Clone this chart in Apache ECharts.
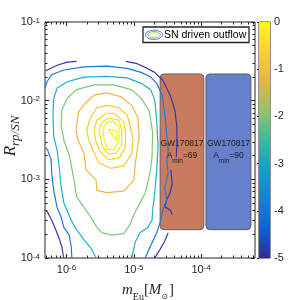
<!DOCTYPE html>
<html><head><meta charset="utf-8">
<script src="https://cdn.jsdelivr.net/npm/echarts@6/dist/echarts.min.js"></script>
<style>html,body{margin:0;padding:0;background:#fff}#c{width:308px;height:300px}</style>
</head><body><div id="c"></div><script>
// axis ranges in log10 units
const xMin = -6.32, xMax = -3.2, yMin = -4, yMax = -1;
const xTicks = [-6, -5, -4];
const yTicks = [-4, -3, -2, -1];
const cbTicks = [0, -1, -2, -3, -4, -5];

// contour lines: [log10 m_Eu, log10 R]
const navyTopLeft = [[-6.31,-1.62],[-6.14,-1.55],[-5.99,-1.51],[-5.85,-1.50]];
const navyRight = [[-5.12,-1.50],[-4.95,-1.53],[-4.80,-1.59],[-4.69,-1.64],[-4.57,-1.74],[-4.46,-1.93],[-4.39,-2.12],[-4.36,-2.34],[-4.36,-2.54],[-4.37,-2.72]];
const navyRightMid = [[-4.45,-2.88],[-4.43,-3.05],[-4.46,-3.17],[-4.51,-3.26],[-4.54,-3.35],[-4.46,-3.39],[-4.43,-3.45]];
const navyBottomRight = [[-4.49,-3.68],[-4.55,-3.80],[-4.61,-3.89],[-4.69,-4.0]];
const navyBottomLeft = [[-6.32,-3.39],[-6.28,-3.42],[-6.22,-3.52],[-6.16,-3.64],[-6.11,-3.75],[-6.07,-3.86],[-6.04,-4.0]];
const blueOuter = [[-6.32,-1.84],[-6.29,-1.76],[-6.22,-1.67],[-6.04,-1.61],[-5.74,-1.57],[-5.40,-1.56],[-5.10,-1.59],[-4.89,-1.64],[-4.75,-1.70],[-4.66,-1.78],[-4.58,-1.93],[-4.54,-2.18],[-4.51,-2.44],[-4.49,-2.63],[-4.51,-2.75],[-4.49,-2.92],[-4.54,-3.10],[-4.51,-3.26],[-4.57,-3.39],[-4.61,-3.55],[-4.66,-3.68],[-4.76,-3.86],[-4.83,-4.0]];
const blueLeft = [[-6.31,-2.60],[-6.28,-2.63],[-6.23,-2.75],[-6.22,-2.92],[-6.19,-3.14],[-6.14,-3.36],[-6.08,-3.48],[-6.04,-3.61],[-5.96,-3.71],[-5.93,-3.86],[-5.92,-4.0]];
const cyanLine = [[-5.56,-4.0],[-5.64,-3.87],[-5.74,-3.77],[-5.85,-3.64],[-5.93,-3.52],[-6.04,-3.30],[-6.08,-3.10],[-6.11,-2.84],[-6.14,-2.63],[-6.19,-2.46],[-6.20,-2.25],[-6.20,-2.12],[-6.19,-1.97],[-6.14,-1.84],[-5.99,-1.76],[-5.74,-1.70],[-5.40,-1.69],[-5.10,-1.71],[-4.89,-1.78],[-4.75,-1.86],[-4.69,-1.99],[-4.66,-2.25],[-4.64,-2.59],[-4.66,-2.88],[-4.69,-3.17],[-4.72,-3.39],[-4.73,-3.52],[-4.80,-3.62],[-4.91,-3.68],[-4.98,-3.80],[-5.03,-4.0]];
const greenLine = [[-5.99,-1.97],[-6.07,-2.12],[-6.08,-2.31],[-6.04,-2.50],[-5.96,-2.69],[-5.93,-2.82],[-5.89,-3.01],[-5.85,-3.22],[-5.74,-3.36],[-5.64,-3.48],[-5.55,-3.61],[-5.47,-3.68],[-5.32,-3.71],[-5.15,-3.69],[-5.06,-3.58],[-5.00,-3.45],[-4.91,-3.30],[-4.83,-3.17],[-4.76,-2.92],[-4.73,-2.72],[-4.72,-2.41],[-4.77,-2.14],[-4.89,-1.97],[-5.04,-1.86],[-5.30,-1.80],[-5.59,-1.80],[-5.85,-1.86],[-5.99,-1.97]];
const orangeLine = [[-5.86,-2.37],[-5.82,-2.14],[-5.71,-2.02],[-5.59,-1.93],[-5.40,-1.90],[-5.19,-1.95],[-5.03,-2.06],[-4.94,-2.22],[-4.92,-2.46],[-4.95,-2.63],[-4.98,-2.82],[-5.00,-3.01],[-5.15,-3.15],[-5.40,-3.17],[-5.55,-3.14],[-5.56,-3.01],[-5.71,-2.88],[-5.74,-2.67],[-5.83,-2.50],[-5.86,-2.37]];
const goldLine = [[-5.70,-2.37],[-5.64,-2.21],[-5.55,-2.09],[-5.40,-2.06],[-5.22,-2.09],[-5.10,-2.18],[-5.04,-2.37],[-5.01,-2.50],[-5.03,-2.67],[-5.15,-2.83],[-5.34,-2.86],[-5.52,-2.79],[-5.61,-2.63],[-5.67,-2.50],[-5.70,-2.37]];
const yellow1 = [[-5.59,-2.37],[-5.55,-2.25],[-5.41,-2.16],[-5.30,-2.16],[-5.15,-2.27],[-5.12,-2.44],[-5.13,-2.60],[-5.22,-2.73],[-5.38,-2.75],[-5.50,-2.65],[-5.56,-2.53],[-5.59,-2.37]];
const yellow2 = [[-5.52,-2.37],[-5.47,-2.27],[-5.37,-2.22],[-5.22,-2.25],[-5.18,-2.37],[-5.18,-2.56],[-5.27,-2.67],[-5.38,-2.68],[-5.47,-2.58],[-5.52,-2.37]];
const yellow3 = [[-5.46,-2.37],[-5.41,-2.28],[-5.31,-2.26],[-5.22,-2.33],[-5.22,-2.50],[-5.30,-2.63],[-5.40,-2.61],[-5.44,-2.50],[-5.46,-2.37]];
const peak = [[-5.38,-2.36],[-5.25,-2.39],[-5.26,-2.51],[-5.38,-2.36]];

const cNavy='#3b37a6', cBlue='#1f76dc', cCyan='#1cb0cf', cGreen='#7fc877', cOrange='#f1b445', cGold='#f9c733', cY1='#f7d626', cY2='#f6e11d', cY3='#f7ec16', cPeak='#f8f60e';
const contours = [
  [navyTopLeft,cNavy],[navyRight,cNavy],[navyRightMid,cNavy],[navyBottomRight,cNavy],[navyBottomLeft,cNavy],
  [blueOuter,cBlue],[blueLeft,cBlue],[cyanLine,cCyan],[greenLine,cGreen],[orangeLine,cOrange],
  [goldLine,cGold],[yellow1,cY1],[yellow2,cY2],[yellow3,cY3],[peak,cPeak]
];

// GW170817 boxes
const boxX = [[-4.61,-3.96],[-3.93,-3.26]];
const boxY = [-1.66,-3.64];
const boxNames = ['GW170817','GW170817'];
const boxAmin = [69, 90];
const boxColors = ['#c87b5e','#6780cc'];

const parula = ['#f9fb0e','#fccf30','#e2b83e','#98c06c','#3cb99c','#0aa4c6','#1482d6','#0a62df','#352a87'];

const xMinor = [], yMinor = [];
for (let n=-7;n<=-4;n++) for (let k=2;k<=9;k++){const v=n+Math.log10(k); if(v>xMin&&v<xMax) xMinor.push(v);}
for (let n=-4;n<=-2;n++) for (let k=2;k<=9;k++){yMinor.push(n+Math.log10(k));}

const AX = '#262626';
const FONT = '"Liberation Sans", Arial, sans-serif';
const labelRich = {
  b:{fontSize:11, lineHeight:11, padding:[5,0,0,0], verticalAlign:'bottom', color:AX, fontFamily:FONT},
  s:{fontSize:8, lineHeight:8, verticalAlign:'top', color:AX, fontFamily:FONT}
};
const fmt = v => '{b|10}{s|' + Math.round(v) + '}';
function ax(extra){
  return Object.assign({type:'value', gridIndex:0, axisLine:{show:false}, splitLine:{show:false}, axisLabel:{show:false}}, extra);
}
const tickStyle = {color:AX, width:1};

const chart = echarts.init(document.getElementById('c'), null, {renderer:'canvas'});
chart.setOption({
  animation:false,
  grid:[
    {left:45, top:22, width:210, height:236, show:true, borderColor:AX, borderWidth:1, backgroundColor:'#fff'},
    {left:259, top:22, width:11, height:236, show:true, borderColor:AX, borderWidth:1}
  ],
  xAxis:[
    ax({min:xMin,max:xMax,position:'bottom',axisTick:{show:true,inside:true,length:4,customValues:xTicks,lineStyle:tickStyle},
        axisLabel:{show:true,customValues:xTicks,formatter:fmt,margin:6,rich:labelRich}}),
    ax({min:xMin,max:xMax,position:'bottom',axisTick:{show:true,inside:true,length:2.5,customValues:xMinor,lineStyle:tickStyle}}),
    ax({min:xMin,max:xMax,position:'top',axisTick:{show:true,inside:true,length:4,customValues:xTicks,lineStyle:tickStyle}}),
    ax({min:xMin,max:xMax,position:'top',axisTick:{show:true,inside:true,length:2.5,customValues:xMinor,lineStyle:tickStyle}}),
    {type:'value', gridIndex:1, min:0, max:1, show:false}
  ],
  yAxis:[
    ax({min:yMin,max:yMax,interval:1,position:'left',axisTick:{show:true,inside:true,length:4,customValues:yTicks,lineStyle:tickStyle},
        axisLabel:{show:true,customValues:yTicks,formatter:fmt,margin:5,rich:labelRich}}),
    ax({min:yMin,max:yMax,position:'left',axisTick:{show:true,inside:true,length:2.5,customValues:yMinor,lineStyle:tickStyle}}),
    ax({min:yMin,max:yMax,position:'right',axisTick:{show:true,inside:true,length:4,customValues:yTicks,lineStyle:tickStyle}}),
    ax({min:yMin,max:yMax,position:'right',axisTick:{show:true,inside:true,length:2.5,customValues:yMinor,lineStyle:tickStyle}}),
    {type:'value', gridIndex:1, min:-5, max:0, interval:1, position:'right', axisLine:{show:false}, splitLine:{show:false},
     axisTick:{show:true, inside:true, length:2, lineStyle:tickStyle},
     axisLabel:{show:true, margin:4, color:AX, fontSize:11, fontFamily:FONT, padding:[4,0,0,0], formatter:v=>String(v)}}
  ],
  series:[
    {type:'custom', xAxisIndex:4, yAxisIndex:4, silent:true, z:1, data:[[0,0,1,-5]],
     renderItem:(params, api)=>{
       const cs = params.coordSys;
       const p0 = api.coord([api.value(0), api.value(1)]);
       const p1 = api.coord([api.value(2), api.value(3)]);
       return {type:'rect', shape:{x:cs.x, y:p0[1], width:cs.width, height:p1[1]-p0[1]},
         style:{fill:new echarts.graphic.LinearGradient(0,p0[1],0,p1[1], parula.map((c,i)=>({offset:i/(parula.length-1), color:c})), true)}};
     }},
    {type:'custom', xAxisIndex:0, yAxisIndex:0, silent:true, z:2,
     data: boxX.map(r=>[r[0], r[1], boxY[0], boxY[1]]),
     renderItem:(params, api)=>{
       const i = params.dataIndex;
       const p0 = api.coord([api.value(0), api.value(2)]);
       const p1 = api.coord([api.value(1), api.value(3)]);
       const x = p0[0], y = p0[1], w = p1[0]-p0[0], h = p1[1]-p0[1];
       const cx = x + w/2;
       return {type:'group', children:[
         {type:'rect', shape:{x, y, width:w, height:h, r:4}, style:{fill:boxColors[i], stroke:'#4d4d4d', lineWidth:0.8}},
         {type:'text', style:{text:boxNames[i], x:cx, y:y+h*0.445, align:'center', verticalAlign:'middle', fill:'#1a1a1a', font:'8.5px "Liberation Sans", Arial, sans-serif'}},
         {type:'text', style:{text:'{a|A}{s|min}{a|=' + boxAmin[i] + '}', x:cx, y:y+h*0.53, align:'center', verticalAlign:'middle',
           rich:{a:{fontSize:8.5, lineHeight:10, verticalAlign:'top', fill:'#1a1a1a', fontFamily:FONT},
                 s:{fontSize:6.5, lineHeight:7, padding:[6,0,0,0], verticalAlign:'top', fill:'#1a1a1a', fontFamily:FONT}}}}
       ]};
     }},
    ...contours.map(([d,c])=>({type:'line', xAxisIndex:0, yAxisIndex:0, data:d, symbol:'none', showSymbol:false, silent:true, z:3,
       lineStyle:{color:c, width:1.2}}))
  ],
  graphic:[
    {type:'rect', shape:{x:143, y:27, width:106, height:15.5}, style:{fill:'#fff', stroke:AX, lineWidth:1.3}, z:10},
    {type:'ellipse', shape:{cx:154, cy:34.8, rx:8.5, ry:4.6}, style:{fill:'none', stroke:'#6f6fd0', lineWidth:1}, z:11},
    {type:'ellipse', shape:{cx:154, cy:34.8, rx:6.2, ry:3.3}, style:{fill:'none', stroke:'#4cbcc0', lineWidth:1}, z:11},
    {type:'ellipse', shape:{cx:154, cy:34.8, rx:3.8, ry:2.1}, style:{fill:'none', stroke:'#f0e030', lineWidth:1}, z:11},
    {type:'text', x:164, y:35, z:11, style:{text:'SN driven outflow', fill:'#000', font:'10.5px "Liberation Sans", Arial, sans-serif', align:'left', verticalAlign:'middle'}},
    {type:'text', x:148, y:291, z:11, style:{text:'{i|m}{e|Eu}{n|[}{i|M}{o|\u2299}{n|]}', align:'center', verticalAlign:'middle',
      rich:{i:{fontFamily:'"Liberation Serif", serif', fontStyle:'italic', fontSize:15, lineHeight:16, verticalAlign:'top', fill:AX},
            n:{fontFamily:'"Liberation Serif", serif', fontSize:15, lineHeight:16, verticalAlign:'top', fill:AX},
            e:{fontFamily:'"Liberation Serif", serif', fontSize:10, lineHeight:10, padding:[9,0,0,0], verticalAlign:'top', fill:AX},
            o:{fontFamily:'"DejaVu Sans", sans-serif', fontSize:8, lineHeight:8, padding:[10,1,0,0], verticalAlign:'top', fill:AX}}}},
    {type:'text', x:11, y:136, rotation:Math.PI/2, z:11, style:{text:'{i|R}{s|rp/SN}', align:'center', verticalAlign:'middle',
      rich:{i:{fontFamily:'"Liberation Serif", serif', fontStyle:'italic', fontSize:17, lineHeight:17, verticalAlign:'top', fill:AX},
            s:{fontFamily:'"Liberation Serif", serif', fontStyle:'italic', fontSize:13, lineHeight:13, padding:[7,0,0,0], verticalAlign:'top', fill:AX}}}}
  ]
});
</script></body></html>
